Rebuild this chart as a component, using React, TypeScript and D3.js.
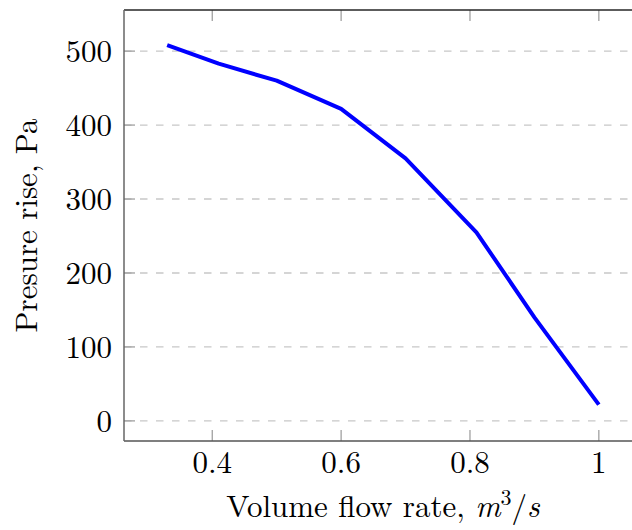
import React from "react";
import * as d3 from "d3";

const flowRates = [0.33, 0.41, 0.5, 0.6, 0.7, 0.81, 0.9, 1.0];
const pressureRise = [508, 483, 460, 422, 355, 255, 140, 22];
const xTicks = [0.4, 0.6, 0.8, 1];
const yTicks = [0, 100, 200, 300, 400, 500];

const W = 632;
const H = 530;
const left = 124;
const right = 642;
const top = 10;
const bottom = 441;
const FONT = "'Latin Modern Roman', 'CMU Serif', 'Liberation Serif', 'DejaVu Serif', serif";
const FS = 31;

export default function App() {
  const x = d3.scaleLinear().domain([0.263, 1.067]).range([left, right]);
  const y = d3.scaleLinear().domain([-27.2, 555.6]).range([bottom, top]);
  const pts = flowRates.map((v, i) => [v, pressureRise[i]] as [number, number]);
  const line = d3
    .line<[number, number]>()
    .x((d) => x(d[0]))
    .y((d) => y(d[1]));
  const tickLen = 11;
  return (
    <svg
      width={W}
      height={H}
      style={{ position: "absolute", left: 0, top: 0, background: "#fff" }}
      fontFamily={FONT}
    >
      <rect x={0} y={0} width={W} height={H} fill="#fff" />
      {yTicks.map((t) => (
        <line
          key={"g" + t}
          x1={left}
          x2={right}
          y1={y(t)}
          y2={y(t)}
          stroke="#c8c8c8"
          strokeWidth={1.3}
          strokeDasharray="7.5 8.5"
        />
      ))}
      {yTicks.map((t) => (
        <g key={"yt" + t}>
          <line x1={left} x2={left + tickLen} y1={y(t)} y2={y(t)} stroke="#a0a0a0" strokeWidth={1.3} />
          <text x={112} y={y(t)} dy="0.35em" textAnchor="end" fontSize={FS} fill="#000">
            {t}
          </text>
        </g>
      ))}
      {xTicks.map((t) => (
        <g key={"xt" + t}>
          <line x1={x(t)} x2={x(t)} y1={bottom} y2={bottom - tickLen} stroke="#a0a0a0" strokeWidth={1.3} />
          <line x1={x(t)} x2={x(t)} y1={top} y2={top + tickLen} stroke="#a0a0a0" strokeWidth={1.3} />
          <text x={x(t)} y={473} textAnchor="middle" fontSize={FS} fill="#000">
            {t}
          </text>
        </g>
      ))}
      <path d={line(pts) || ""} fill="none" stroke="#0000ff" strokeWidth={4} strokeLinejoin="round" />
      <line x1={left} x2={right} y1={top} y2={top} stroke="#262626" strokeWidth={1.5} />
      <line x1={left} x2={right} y1={bottom} y2={bottom} stroke="#555" strokeWidth={1.5} />
      <line x1={left} x2={left} y1={top} y2={bottom} stroke="#666" strokeWidth={1.5} />
      <text x={383} y={517} textAnchor="middle" fontSize={FS} fill="#000">
        Volume flow rate, <tspan fontStyle="italic">m</tspan>
        <tspan fontSize={22} dy={-12}>3</tspan>
        <tspan dy={12}>/</tspan>
        <tspan fontStyle="italic">s</tspan>
      </text>
      <text
        transform={`translate(37, ${(top + bottom) / 2}) rotate(-90)`}
        textAnchor="middle"
        fontSize={FS}
        fill="#000"
      >
        Presure rise, Pa
      </text>
    </svg>
  );
}
